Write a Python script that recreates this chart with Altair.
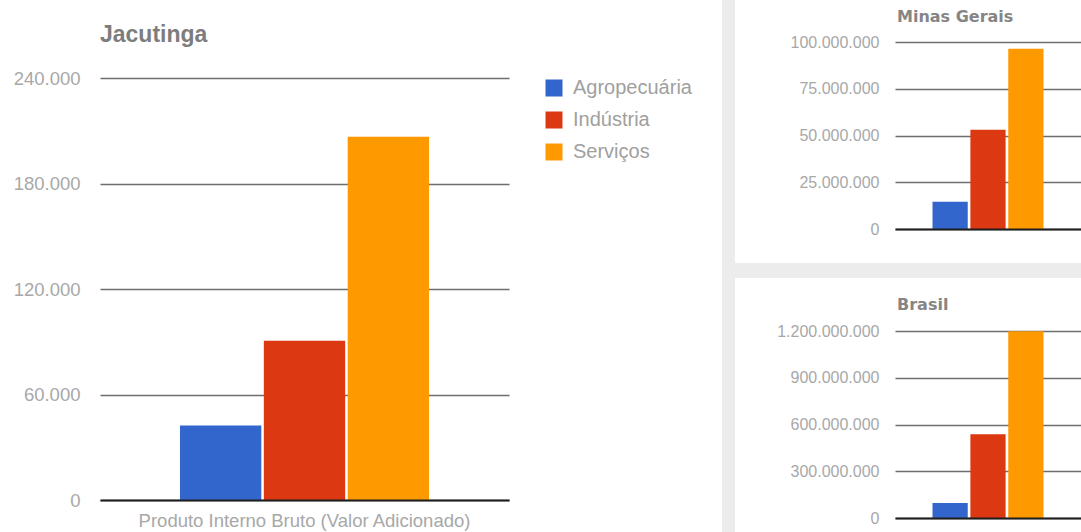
import altair as alt
import pandas as pd

# ---------------- data ----------------
setores = ["Agropecuária", "Indústria", "Serviços"]
cores = ["#3366cc", "#dc3912", "#ff9900"]
categoria = "Produto Interno Bruto (Valor Adicionado)"

jacutinga_valores = [42300, 90500, 206600]
minas_valores = [14600000, 53100000, 96400000]
brasil_valores = [96000000, 538000000, 1198000000]

jacutinga_ticks = [0, 60000, 120000, 180000, 240000]
minas_ticks = [0, 25000000, 50000000, 75000000, 100000000]
brasil_ticks = [0, 300000000, 600000000, 900000000, 1200000000]

titulos = ["Jacutinga", "Minas Gerais", "Brasil"]

# ---------------- styles ----------------
LABEL_EXPR = "replace(replace(replace(format(datum.value, ','), ',', '.'), ',', '.'), ',', '.')"
GRID = "#6e6e6e"
BASE = "#1e1e1e"
TXT = "#a8a8a8"
BAND = "#ececec"
ARIAL = "Liberation Sans"

# the left panel's plot area starts higher than its top gridline (240.000)
LEFT_H = 458
LEFT_TOP_VALUE = 240000 * LEFT_H / 422


def frame(rows):
    return pd.DataFrame({"grupo": [categoria] * len(rows[0]), "setor": rows[0], "valor": rows[1]})


def bars(df, ymax, ticks, po, pi, show_x, fs, lpad, legend):
    return alt.Chart(df).mark_bar().encode(
        x=alt.X("grupo:N",
                scale=alt.Scale(paddingInner=0, paddingOuter=po),
                axis=alt.Axis(title=None, labels=show_x, labelAngle=0, ticks=False,
                              domain=True, domainColor=BASE, domainWidth=2, grid=False,
                              labelColor=TXT, labelFont=ARIAL, labelFontSize=18.5,
                              labelPadding=11, labelLimit=0, zindex=1)),
        xOffset=alt.XOffset("setor:N", sort=setores,
                            scale=alt.Scale(paddingInner=pi, paddingOuter=0)),
        y=alt.Y("valor:Q",
                scale=alt.Scale(domain=[0, ymax], nice=False, zero=True),
                axis=alt.Axis(title=None, values=ticks, labelExpr=LABEL_EXPR,
                              grid=True, gridColor=GRID, gridWidth=1.5,
                              domain=False, ticks=False, labelPadding=lpad,
                              labelColor=TXT, labelFont=ARIAL, labelFontSize=fs)),
        color=alt.Color("setor:N", sort=setores,
                        scale=alt.Scale(domain=setores, range=cores),
                        legend=legend),
    )


def text(label, x, y, font, size, color):
    return alt.Chart(pd.DataFrame({"t": [label]})).mark_text(
        align="left", baseline="alphabetic", font=font, fontSize=size,
        fontWeight="bold", color=color,
    ).encode(x=alt.value(x), y=alt.value(y), text="t:N")


def rect(x, x2, y, y2, color):
    return alt.Chart(pd.DataFrame({"a": [0]})).mark_rect(color=color).encode(
        x=alt.value(x), x2=alt.value(x2), y=alt.value(y), y2=alt.value(y2)
    )


legenda = alt.Legend(title=None, orient="none", legendX=444, legendY=36,
                     direction="vertical", symbolType="square", symbolSize=289,
                     symbolStrokeWidth=0, labelFont=ARIAL, labelFontSize=20,
                     labelColor="#a0a0a0", rowPadding=12, labelOffset=9)

left = alt.layer(
    rect(-100, 622, -42, -41, "white"),
    bars(frame([setores, jacutinga_valores]), LEFT_TOP_VALUE, jacutinga_ticks, 0.321, 0.03,
         True, 18.5, 20, legenda),
    text(titulos[0], 0, 0, ARIAL, 23, "#7d7d7d"),
).properties(width=409, height=LEFT_H)

mg = alt.layer(
    rect(-173, -160, -42, 236, BAND),
    rect(-173, 186, 221, 236, BAND),
    bars(frame([setores, minas_valores]), 100000000, minas_ticks, 0.338, 0.07,
         False, 16, 16, None),
    text(titulos[1], 2, -20, "DejaVu Sans", 16, "#858585"),
).properties(width=186, height=187)

br = alt.layer(
    rect(-173, -160, -53, 201, BAND),
    bars(frame([setores, brasil_valores]), 1200000000, brasil_ticks, 0.338, 0.07,
         False, 16, 16, None),
    text(titulos[2], 2, -21, "DejaVu Sans", 16, "#858585"),
).properties(width=186, height=187)

right = alt.vconcat(mg, br, spacing=0).resolve_scale(
    x="independent", xOffset="independent", y="independent"
)

chart = alt.hconcat(left, right, spacing=0).resolve_scale(
    x="independent", xOffset="independent", y="independent", color="independent"
).resolve_legend(color="independent").properties(
    padding={"left": 0, "top": 0, "right": 0, "bottom": 0}
).configure_view(strokeWidth=0)

chart.save("out.html", embed_options={"renderer": "svg", "actions": False})
